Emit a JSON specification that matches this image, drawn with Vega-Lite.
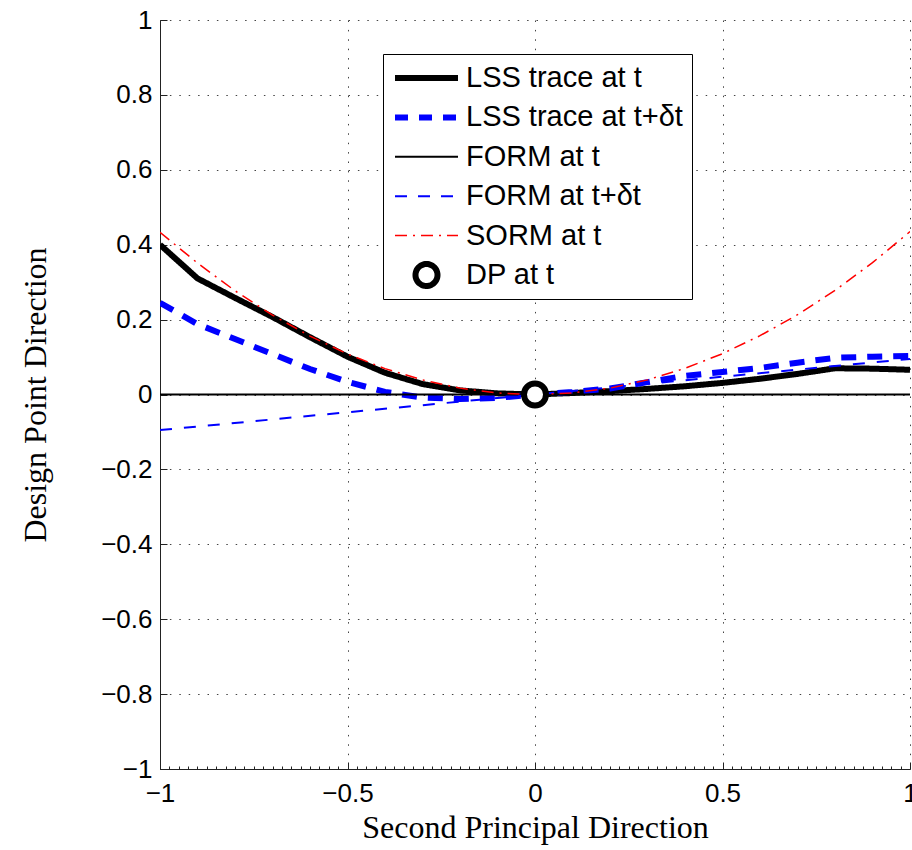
{
  "$schema": "https://vega.github.io/schema/vega-lite/v6.json",
  "width": 750,
  "height": 749,
  "autosize": {"type": "none"},
  "padding": {"left": 160, "top": 20, "right": 2, "bottom": 81},
  "background": "white",
  "config": {
    "view": {"stroke": null},
    "axis": {
      "labelFont": "Liberation Sans",
      "labelFontSize": 26,
      "labelColor": "black",
      "titleFont": "Liberation Serif",
      "titleFontSize": 32,
      "titleFontWeight": "normal",
      "titleColor": "black",
      "domainColor": "#222",
      "domainWidth": 1,
      "tickColor": "#222",
      "gridColor": "#444",
      "gridWidth": 1,
      "gridDash": [1.5, 7.9],
      "labelOverlap": false,
      "labelFlush": false
    }
  },
  "resolve": {"axis": {"x": "independent"}},
  "datasets": {
    "curves": [
      {"series": "LSS trace at t", "x": -1.0, "y": 0.40},
      {"series": "LSS trace at t", "x": -0.9, "y": 0.31},
      {"series": "LSS trace at t", "x": -0.8, "y": 0.258},
      {"series": "LSS trace at t", "x": -0.7, "y": 0.207},
      {"series": "LSS trace at t", "x": -0.6, "y": 0.153},
      {"series": "LSS trace at t", "x": -0.5, "y": 0.101},
      {"series": "LSS trace at t", "x": -0.4, "y": 0.058},
      {"series": "LSS trace at t", "x": -0.3, "y": 0.028},
      {"series": "LSS trace at t", "x": -0.2, "y": 0.011},
      {"series": "LSS trace at t", "x": -0.1, "y": 0.003},
      {"series": "LSS trace at t", "x": 0.0, "y": 0.0},
      {"series": "LSS trace at t", "x": 0.1, "y": 0.004},
      {"series": "LSS trace at t", "x": 0.2, "y": 0.009},
      {"series": "LSS trace at t", "x": 0.3, "y": 0.015},
      {"series": "LSS trace at t", "x": 0.4, "y": 0.022},
      {"series": "LSS trace at t", "x": 0.5, "y": 0.031},
      {"series": "LSS trace at t", "x": 0.6, "y": 0.042},
      {"series": "LSS trace at t", "x": 0.7, "y": 0.055},
      {"series": "LSS trace at t", "x": 0.8, "y": 0.070},
      {"series": "LSS trace at t", "x": 0.9, "y": 0.069},
      {"series": "LSS trace at t", "x": 1.0, "y": 0.066},

      {"series": "LSS trace at t+δt", "x": -1.0, "y": 0.245},
      {"series": "LSS trace at t+δt", "x": -0.9, "y": 0.188},
      {"series": "LSS trace at t+δt", "x": -0.8, "y": 0.148},
      {"series": "LSS trace at t+δt", "x": -0.7, "y": 0.108},
      {"series": "LSS trace at t+δt", "x": -0.6, "y": 0.068},
      {"series": "LSS trace at t+δt", "x": -0.5, "y": 0.034},
      {"series": "LSS trace at t+δt", "x": -0.4, "y": 0.007},
      {"series": "LSS trace at t+δt", "x": -0.3, "y": -0.008},
      {"series": "LSS trace at t+δt", "x": -0.2, "y": -0.012},
      {"series": "LSS trace at t+δt", "x": -0.1, "y": -0.009},
      {"series": "LSS trace at t+δt", "x": 0.0, "y": 0.0},
      {"series": "LSS trace at t+δt", "x": 0.1, "y": 0.007},
      {"series": "LSS trace at t+δt", "x": 0.2, "y": 0.016},
      {"series": "LSS trace at t+δt", "x": 0.3, "y": 0.033},
      {"series": "LSS trace at t+δt", "x": 0.4, "y": 0.05},
      {"series": "LSS trace at t+δt", "x": 0.5, "y": 0.06},
      {"series": "LSS trace at t+δt", "x": 0.6, "y": 0.071},
      {"series": "LSS trace at t+δt", "x": 0.7, "y": 0.085},
      {"series": "LSS trace at t+δt", "x": 0.8, "y": 0.098},
      {"series": "LSS trace at t+δt", "x": 0.9, "y": 0.101},
      {"series": "LSS trace at t+δt", "x": 1.0, "y": 0.103},

      {"series": "FORM at t", "x": -1.0, "y": 0.0},
      {"series": "FORM at t", "x": 1.0, "y": 0.0},

      {"series": "FORM at t+δt", "x": -1.0, "y": -0.095},
      {"series": "FORM at t+δt", "x": 1.0, "y": 0.095},

      {"series": "SORM at t", "x": -1.0, "y": 0.433},
      {"series": "SORM at t", "x": -0.9, "y": 0.351},
      {"series": "SORM at t", "x": -0.8, "y": 0.277},
      {"series": "SORM at t", "x": -0.7, "y": 0.212},
      {"series": "SORM at t", "x": -0.6, "y": 0.156},
      {"series": "SORM at t", "x": -0.5, "y": 0.108},
      {"series": "SORM at t", "x": -0.4, "y": 0.069},
      {"series": "SORM at t", "x": -0.3, "y": 0.039},
      {"series": "SORM at t", "x": -0.2, "y": 0.017},
      {"series": "SORM at t", "x": -0.1, "y": 0.004},
      {"series": "SORM at t", "x": 0.0, "y": 0.0},
      {"series": "SORM at t", "x": 0.1, "y": 0.004},
      {"series": "SORM at t", "x": 0.2, "y": 0.017},
      {"series": "SORM at t", "x": 0.3, "y": 0.039},
      {"series": "SORM at t", "x": 0.4, "y": 0.07},
      {"series": "SORM at t", "x": 0.5, "y": 0.109},
      {"series": "SORM at t", "x": 0.6, "y": 0.157},
      {"series": "SORM at t", "x": 0.7, "y": 0.213},
      {"series": "SORM at t", "x": 0.8, "y": 0.278},
      {"series": "SORM at t", "x": 0.9, "y": 0.352},
      {"series": "SORM at t", "x": 1.0, "y": 0.435}
    ],
    "points": [
      {"series": "DP at t", "x": 0.0, "y": 0.0}
    ]
  },
  "layer": [
    {
      "data": {"name": "curves"},
      "mark": {"type": "line", "clip": true},
      "encoding": {
        "x": {
          "field": "x", "type": "quantitative",
          "scale": {"domain": [-1, 1], "nice": false, "zero": false},
          "axis": {
            "orient": "bottom",
            "title": "Second Principal Direction",
            "titleBaseline": "alphabetic",
            "titleAnchor": "middle",
            "titleX": 375,
            "titleY": 68,
            "labelOverlap": false,
            "labelFlush": false,
            "labelBound": false,
            "values": [-1, -0.5, 0, 0.5, 1],
            "format": "~g",
            "tickSize": -7,
            "labelPadding": 18
          }
        },
        "y": {
          "field": "y", "type": "quantitative",
          "scale": {"domain": [-1, 1], "nice": false, "zero": false},
          "axis": {
            "title": "Design Point Direction",
            "titleAngle": -90,
            "titleBaseline": "alphabetic",
            "titleAlign": "center",
            "titleX": -115,
            "titleY": 374.5,
            "labelOverlap": false,
            "labelFlush": false,
            "values": [-1,-0.975,-0.95,-0.925,-0.9,-0.875,-0.85,-0.825,-0.8,-0.775,-0.75,-0.725,-0.7,-0.675,-0.65,-0.625,-0.6,-0.575,-0.55,-0.525,-0.5,-0.475,-0.45,-0.425,-0.4,-0.375,-0.35,-0.325,-0.3,-0.275,-0.25,-0.225,-0.2,-0.175,-0.15,-0.125,-0.1,-0.075,-0.05,-0.025,0,0.025,0.05,0.075,0.1,0.125,0.15,0.175,0.2,0.225,0.25,0.275,0.3,0.325,0.35,0.375,0.4,0.425,0.45,0.475,0.5,0.525,0.55,0.575,0.6,0.625,0.65,0.675,0.7,0.725,0.75,0.775,0.8,0.825,0.85,0.875,0.9,0.925,0.95,0.975,1],
            "labelExpr": "abs(datum.value*5 - round(datum.value*5)) < 0.001 ? format(datum.value, '~g') : ''",
            "tickSize": {"condition": {"test": "abs(datum.value*5 - round(datum.value*5)) < 0.001", "value": -7}, "value": -3},
            "gridOpacity": {"condition": {"test": "abs(datum.value*5 - round(datum.value*5)) < 0.001", "value": 1}, "value": 0},
            "labelPadding": 15
          }
        },
        "color": {
          "field": "series", "type": "nominal",
          "scale": {
            "domain": ["LSS trace at t", "LSS trace at t+δt", "FORM at t", "FORM at t+δt", "SORM at t", "DP at t"],
            "range": ["#000000", "#0000ff", "#000000", "#0000ff", "#ff0000", "#000000"]
          },
          "legend": {
            "orient": "none",
            "legendX": 223,
            "legendY": 34,
            "title": null,
            "symbolType": "stroke",
            "symbolSize": 3969,
            "symbolStrokeWidth": 6,
            "labelFont": "Liberation Sans",
            "labelFontSize": 29,
            "labelColor": "black",
            "labelLimit": 0,
            "labelOffset": 42,
            "symbolOffset": 3,
            "clipHeight": 30,
            "rowPadding": 9.4,
            "padding": 9,
            "strokeColor": "black",
            "fillColor": "white",
            "encode": {
              "symbols": {
                "update": {
                  "x": {"value": 34.5},
                  "shape": {"signal": "datum.value === 'DP at t' ? 'circle' : 'stroke'"},
                  "size": {"signal": "datum.value === 'DP at t' ? 484 : 3969"},
                  "fill": {"signal": "datum.value === 'DP at t' ? 'white' : 'transparent'"},
                  "strokeWidth": {"signal": "(datum.value === 'LSS trace at t' || datum.value === 'LSS trace at t+δt' || datum.value === 'DP at t') ? 6 : (datum.value === 'SORM at t' ? 1.5 : 2)"},
                  "strokeDash": {"signal": "datum.value === 'LSS trace at t+δt' ? [13, 11] : (datum.value === 'FORM at t+δt' ? [12, 11] : (datum.value === 'SORM at t' ? [12, 6, 2, 6] : [1, 0]))"},
                  "opacity": {"value": 1}
                }
              }
            }
          }
        },
        "strokeDash": {
          "field": "series", "type": "nominal",
          "scale": {
            "domain": ["LSS trace at t", "LSS trace at t+δt", "FORM at t", "FORM at t+δt", "SORM at t"],
            "range": [[1, 0], [15, 11], [1, 0], [12, 12], [12, 6, 2, 6]]
          },
          "legend": null
        },
        "strokeWidth": {
          "field": "series", "type": "nominal",
          "scale": {
            "type": "ordinal",
            "domain": ["LSS trace at t", "LSS trace at t+δt", "FORM at t", "FORM at t+δt", "SORM at t"],
            "range": [6, 6, 2, 2, 1.5]
          },
          "legend": null
        }
      }
    },
    {
      "data": {"name": "points"},
      "mark": {"type": "point", "shape": "circle", "size": 484, "filled": false, "stroke": "black", "strokeWidth": 6, "fill": "white", "fillOpacity": 1, "opacity": 1},
      "encoding": {
        "x": {
          "field": "x", "type": "quantitative",
          "axis": {
            "orient": "bottom",
            "title": null,
            "labels": false,
            "grid": false,
            "domain": false,
            "tickSize": -3,
            "values": [-1,-0.975,-0.95,-0.925,-0.9,-0.875,-0.85,-0.825,-0.8,-0.775,-0.75,-0.725,-0.7,-0.675,-0.65,-0.625,-0.6,-0.575,-0.55,-0.525,-0.5,-0.475,-0.45,-0.425,-0.4,-0.375,-0.35,-0.325,-0.3,-0.275,-0.25,-0.225,-0.2,-0.175,-0.15,-0.125,-0.1,-0.075,-0.05,-0.025,0,0.025,0.05,0.075,0.1,0.125,0.15,0.175,0.2,0.225,0.25,0.275,0.3,0.325,0.35,0.375,0.4,0.425,0.45,0.475,0.5,0.525,0.55,0.575,0.6,0.625,0.65,0.675,0.7,0.725,0.75,0.775,0.8,0.825,0.85,0.875,0.9,0.925,0.95,0.975,1]
          }
        },
        "y": {"field": "y", "type": "quantitative"}
      }
    }
  ]
}
